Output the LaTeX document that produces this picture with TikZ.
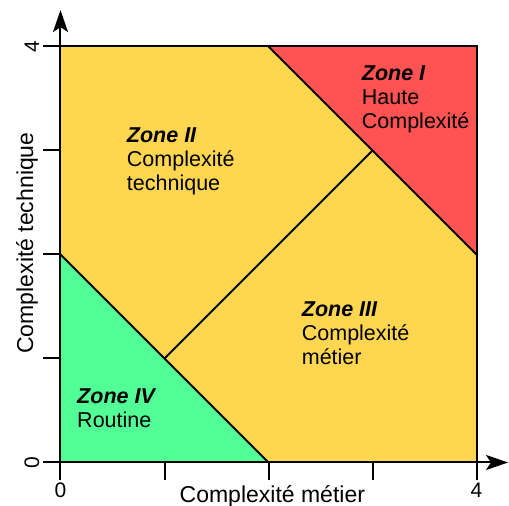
\documentclass[tikz,border=0pt]{standalone}
\usepackage{fontspec}
\setmainfont{Liberation Sans}
\usetikzlibrary{arrows.meta}
\definecolor{zyellow}{RGB}{255,214,79}
\definecolor{zred}{RGB}{255,82,82}
\definecolor{zgreen}{RGB}{82,255,150}
\tikzset{
  edge/.style={line width=2pt, line join=miter},
  axis/.style={line width=2pt, -{Stealth[length=22pt,width=15pt,inset=5pt]}},
  tick/.style={line width=2pt},
  zonetxt/.style={anchor=base west, align=left, inner sep=0pt, font=\fontsize{21.5}{23.7}\selectfont},
  lab/.style={inner sep=0pt, font=\fontsize{21}{24}\selectfont},
  axlab/.style={inner sep=0pt, font=\fontsize{23}{26}\selectfont}
}
\begin{document}
\begin{tikzpicture}[x=104pt,y=104pt]
\useasboundingbox (-0.5817,-0.418) rectangle (4.3125,4.447);
% corners
\coordinate (A) at (0,0);
\coordinate (B) at (4,0);
\coordinate (C) at (4,4);
\coordinate (D) at (0,4);
\coordinate (P02) at (0,2);
\coordinate (P20) at (2,0);
\coordinate (P24) at (2,4);
\coordinate (P42) at (4,2);
\coordinate (P11) at (1,1);
\coordinate (P33) at (3,3);
% fills
\fill[zyellow] (A) rectangle (C);
\fill[zred] (P24) -- (C) -- (P42) -- cycle;
\fill[zgreen] (A) -- (P02) -- (P20) -- cycle;
% zone boundaries
\draw[edge] (P02) -- (P20);
\draw[edge] (P24) -- (P42);
\draw[edge] (P11) -- (P33);
\draw[edge] (A) -- (B) -- (C) -- (D) -- cycle;
% ticks
\foreach \i in {0,...,4} {
  \coordinate (ty\i) at (0,\i);
  \coordinate (tyl\i) at (-0.17,\i);
  \draw[tick] (tyl\i) -- (ty\i);
  \coordinate (tx\i) at (\i,0);
  \coordinate (txl\i) at (\i,-0.17);
  \draw[tick] (txl\i) -- (tx\i);
}
% axes
\coordinate (yend) at (0,4.35);
\coordinate (xend) at (4.303,0);
\draw[axis] (txl0) -- (yend);
\draw[axis] (tyl0) -- (xend);
% tick labels
\node[lab, anchor=base] (x0) at (0,-0.341) {0};
\node[lab, anchor=base] (x4) at (4,-0.341) {4};
\node[lab, anchor=base, rotate=90] (y0) at (-0.205,0) {0};
\node[lab, anchor=base, rotate=90] (y4) at (-0.205,4) {4};
% axis labels
\node[axlab, anchor=base] (xlab) at (2.037,-0.389) {Complexité métier};
\node[axlab, anchor=base, rotate=90] (ylab) at (-0.264,2.11) {Complexité technique};
% zone texts
\node[zonetxt] (z1) at (2.896,3.216) {\textbf{\textit{Zone I}}\\Haute\\Complexité};
\node[zonetxt] (z2) at (0.637,2.620) {\textbf{\textit{Zone II}}\\Complexité\\technique};
\node[zonetxt] (z3) at (2.319,0.947) {\textbf{\textit{Zone III}}\\Complexité\\métier};
\node[zonetxt] (z4) at (0.159,0.341) {\textbf{\textit{Zone IV}}\\Routine};
\end{tikzpicture}
\end{document}
